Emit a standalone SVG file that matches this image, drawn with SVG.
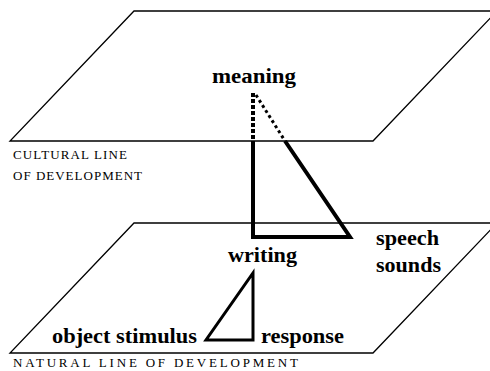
<svg xmlns="http://www.w3.org/2000/svg" width="490" height="371" viewBox="0 0 490 371">
<style>
.plane{fill:none;stroke:#000;stroke-width:1.3}
.lbl{font-family:'Liberation Serif','Times New Roman',serif;font-weight:bold;font-size:22px;fill:#000}
.cap{font-family:'Liberation Serif','Times New Roman',serif;font-size:13px;fill:#000}
.thick{fill:none;stroke:#000;stroke-width:4;stroke-linejoin:miter}
.thin{fill:none;stroke:#000;stroke-width:3;stroke-linejoin:miter}
</style>
<rect width="490" height="371" fill="#fff"/>
<g id="cultural-plane">
<polygon class="plane" points="134,11 497,11 373,141 10,141"/>
<text class="cap" x="13" y="159" textLength="114" lengthAdjust="spacing">CULTURAL LINE</text>
<text class="cap" x="13" y="180" textLength="129" lengthAdjust="spacing">OF DEVELOPMENT</text>
</g>
<g id="natural-plane">
<polygon class="plane" points="134,223 497,223 373,353 10,353"/>
<text class="cap" x="13" y="367" textLength="285" lengthAdjust="spacing">NATURAL LINE OF DEVELOPMENT</text>
</g>
<g id="connectors">
<line x1="253" y1="93" x2="253" y2="141" stroke="#000" stroke-width="4" stroke-dasharray="4,2"/>
<line x1="256" y1="95" x2="285" y2="141" stroke="#000" stroke-width="3" stroke-dasharray="3,3"/>
<polyline class="thick" points="253,141 253,237 350,237 285,141"/>
<polygon class="thin" points="253,273 253,340 206,340"/>
</g>
<g id="meaning"><text class="lbl" x="212" y="83" textLength="84" lengthAdjust="spacingAndGlyphs">meaning</text></g>
<g id="writing"><text class="lbl" x="228" y="262" textLength="69" lengthAdjust="spacingAndGlyphs">writing</text></g>
<g id="speech-sounds"><text class="lbl" x="376" y="245" textLength="63" lengthAdjust="spacingAndGlyphs">speech</text><text class="lbl" x="376" y="272" textLength="65" lengthAdjust="spacingAndGlyphs">sounds</text></g>
<g id="object-stimulus"><text class="lbl" x="52" y="343" textLength="145" lengthAdjust="spacingAndGlyphs">object stimulus</text></g>
<g id="response"><text class="lbl" x="261" y="343" textLength="83" lengthAdjust="spacingAndGlyphs">response</text></g>
</svg>
